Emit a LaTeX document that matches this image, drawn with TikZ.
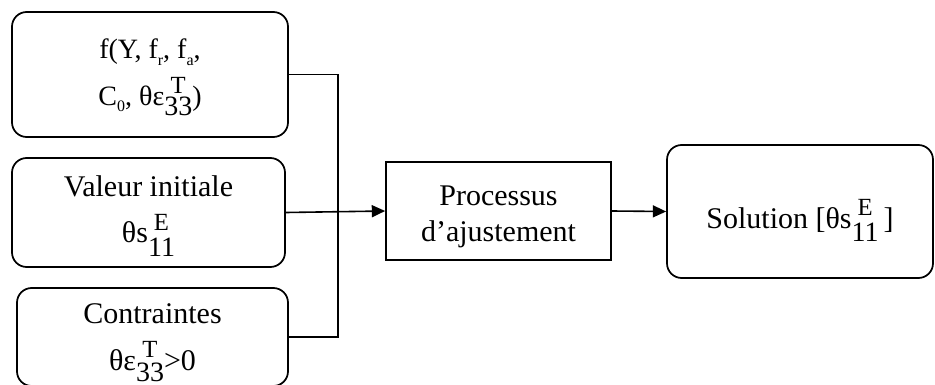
\documentclass[tikz,border=0pt]{standalone}
\usepackage{fontspec}
\setmainfont{Liberation Serif}
\usetikzlibrary{arrows.meta}
\newbox\mysubbox
% stacked superscript over subscript
\newcommand\supsub[4]{%
 \setbox\mysubbox\hbox{\fontsize{21}{21}\selectfont #2}%
 \rlap{\hbox to \wd\mysubbox{\hss\raisebox{#3}{\fontsize{18.5}{18.5}\selectfont #1}\hss}}%
 \raisebox{-#4}{\box\mysubbox}}
\newcommand\smallsub[1]{\raisebox{-5pt}{\fontsize{12}{12}\selectfont #1}}
\begin{document}
\begin{tikzpicture}[x=0.75pt,y=-0.75pt,
  box/.style={draw, line width=1.3pt, rounded corners=11pt, align=center, inner sep=0pt},
  sqbox/.style={draw, line width=1.3pt, align=center, inner sep=0pt},
  conn/.style={line width=1.2pt},
  arr/.style={conn, -{Triangle[length=10pt,width=9pt]}},
  every node/.style={font=\fontsize{22.5}{27}\selectfont}]
\useasboundingbox (0,0) rectangle (935,385);

\node[box, minimum width=207pt, minimum height=93.75pt,
      font=\fontsize{21}{35}\selectfont] (b1) at (150,74.5)
  {\rule{0pt}{19pt}f(Y, f\smallsub{r}, f\smallsub{a},\\C\smallsub{0}, θε\supsub{T}{33}{9pt}{8pt})};

\node[box, minimum width=204.75pt, minimum height=81.75pt,
      font=\fontsize{22.5}{34.5}\selectfont] (b2) at (148.5,212.5)
  {\rule{0pt}{21pt}Valeur initiale\\θs\supsub{E}{11}{9.5pt}{10pt}};

\node[box, minimum width=203.25pt, minimum height=73.5pt,
      font=\fontsize{22.5}{35}\selectfont] (b3) at (152.5,337)
  {\rule{0pt}{24pt}Contraintes\\θε\supsub{T}{33}{9.5pt}{8.5pt}>0};

\node[sqbox, minimum width=168.75pt, minimum height=73.5pt,
      font=\fontsize{22.5}{27}\selectfont] (proc) at (498.5,211)
  {\rule{0pt}{24pt}Processus\\d’ajustement};

\node[box, minimum width=199.5pt, minimum height=99.75pt] (sol) at (800,211.5)
  {\rule{0pt}{35pt}Solution [θs\supsub{E}{11}{9.5pt}{10pt}\,]};

\coordinate (j) at (338,211);
\draw[conn] (b1.east) -| (j) |- (b3.east);
\draw[arr] (b2.east) -- (proc.west);
\draw[arr] (proc.east) -- (sol.west);
\end{tikzpicture}
\end{document}
